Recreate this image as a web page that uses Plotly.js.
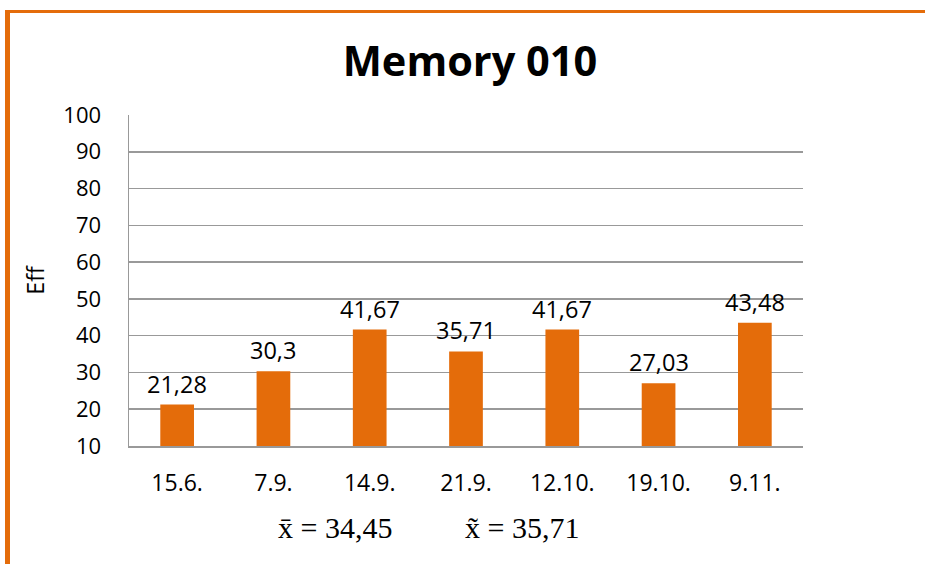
<!DOCTYPE html>
<html>
<head>
<meta charset="utf-8">
<script src="https://cdn.plot.ly/plotly-3.0.1.min.js"></script>
<style>
  html, body { margin: 0; padding: 0; background: #fff; }
  #chart { width: 925px; height: 564px; }
</style>
</head>
<body>
<div id="chart"></div>
<script>
// Measurement dates and efficiency values for Memory 010
const dates = ["15.6.", "7.9.", "14.9.", "21.9.", "12.10.", "19.10.", "9.11."];
const eff = [21.28, 30.3, 41.67, 35.71, 41.67, 27.03, 43.48];
const yTicks = [10, 20, 30, 40, 50, 60, 70, 80, 90, 100];

const ORANGE = "#E46C0A";
const GRID = "#999999";
const FONT = "'Open Sans', Lato, sans-serif";
const SERIF = "'Liberation Serif', 'DejaVu Serif', serif";

const fmt = (v) => String(v).replace(".", ",");
const fmt2 = (v) => v.toFixed(2).replace(".", ",");

// Summary statistics shown under the chart
const mean = eff.reduce((a, b) => a + b, 0) / eff.length;
const sorted = eff.slice().sort((a, b) => a - b);
const mid = Math.floor(sorted.length / 2);
const median = sorted.length % 2 ? sorted[mid] : (sorted[mid - 1] + sorted[mid]) / 2;

const trace = {
  type: "bar",
  x: dates,
  y: eff,
  base: 0,
  marker: { color: ORANGE, line: { width: 0 } },
  width: 0.35,
  hoverinfo: "x+y"
};

// Value labels sitting just above each bar
const valueLabels = dates.map((d, i) => ({
  text: fmt(eff[i]),
  x: d, y: eff[i],
  xref: "x", yref: "y",
  xanchor: "center", yanchor: "bottom",
  yshift: 3,
  showarrow: false,
  font: { family: FONT, size: 23.5, color: "#000" }
}));

const statFont = { family: SERIF, size: 30, color: "#000" };

const layout = {
  width: 925,
  height: 564,
  margin: { l: 129, r: 122, t: 115, b: 118 },
  paper_bgcolor: "#fff",
  plot_bgcolor: "#fff",
  showlegend: false,
  font: { family: FONT, color: "#000" },
  title: {
    text: "<b>Memory 010</b>",
    font: { family: FONT, size: 41.5, color: "#000" },
    x: 470 / 925, xanchor: "center",
    y: 1 - 61 / 564, yanchor: "middle",
    xref: "container", yref: "container"
  },
  xaxis: {
    type: "category",
    showgrid: false,
    showline: true,
    linecolor: GRID,
    linewidth: 1.5,
    ticks: "",
    ticklabelstandoff: 16,
    tickfont: { family: FONT, size: 23, color: "#000" },
    fixedrange: true
  },
  yaxis: {
    range: [10, 100],
    tickvals: yTicks,
    ticktext: yTicks.map(String),
    showgrid: true,
    gridcolor: GRID,
    gridwidth: 1.5,
    showline: true,
    linecolor: GRID,
    linewidth: 1.5,
    zeroline: false,
    ticks: "",
    ticklabelstandoff: 22,
    tickfont: { family: FONT, size: 22, color: "#000" },
    title: { text: "Eff", font: { family: FONT, size: 23, color: "#000" }, standoff: 12 },
    fixedrange: true
  },
  annotations: valueLabels.concat([
    {
      text: "x\u0304 = " + fmt2(mean),
      xref: "paper", yref: "paper",
      x: (335 - 129) / 674, y: (446 - 527) / 331,
      xanchor: "center", yanchor: "middle",
      showarrow: false,
      font: statFont
    },
    {
      text: "x\u0303 = " + fmt2(median),
      xref: "paper", yref: "paper",
      x: (522 - 129) / 674, y: (446 - 527) / 331,
      xanchor: "center", yanchor: "middle",
      showarrow: false,
      font: statFont
    }
  ]),
  // Orange frame along the top and left edges
  shapes: [
    {
      type: "line", xref: "paper", yref: "paper",
      x0: (5 - 129) / 674, x1: (925 - 129) / 674,
      y0: (446 - 11.5) / 331, y1: (446 - 11.5) / 331,
      line: { color: ORANGE, width: 3 }
    },
    {
      type: "line", xref: "paper", yref: "paper",
      x0: (7.5 - 129) / 674, x1: (7.5 - 129) / 674,
      y0: (446 - 10) / 331, y1: (446 - 570) / 331,
      line: { color: ORANGE, width: 5 }
    }
  ]
};

Plotly.newPlot("chart", [trace], layout, { displayModeBar: false, staticPlot: true });
</script>
</body>
</html>
